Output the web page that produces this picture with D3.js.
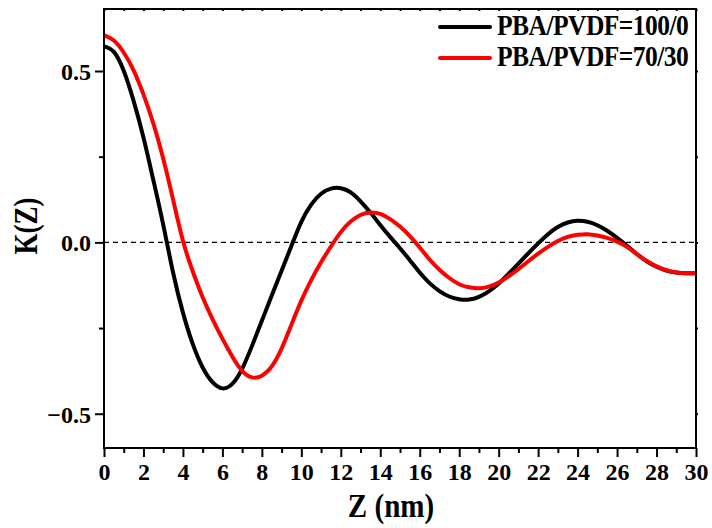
<!DOCTYPE html>
<html>
<head>
<meta charset="utf-8">
<script src="https://cdn.jsdelivr.net/npm/d3@7"></script>
<style>
  body { margin: 0; background: #fff; }
  svg { display: block; }
  text { font-family: "Liberation Serif", "Times New Roman", serif; font-weight: bold; fill: #000; }
</style>
</head>
<body>
<svg id="chart" width="712" height="528"></svg>
<script>
// ---- data ----
const zValues = [0,0.5,1,1.5,2,2.5,3,3.5,4,4.5,5,5.5,6,6.5,7,7.5,8,8.5,9,9.5,10,10.5,11,11.5,12,12.5,13,13.5,14,14.5,15,15.5,16,16.5,17,17.5,18,18.5,19,19.5,20,20.5,21,21.5,22,22.5,23,23.5,24,24.5,25,25.5,26,26.5,27,27.5,28,28.5,29,29.5,30];
const kPBA100 = [0.572,0.556,0.501,0.413,0.306,0.182,0.052,-0.088,-0.205,-0.297,-0.365,-0.408,-0.426,-0.413,-0.369,-0.302,-0.229,-0.155,-0.083,-0.010,0.060,0.110,0.142,0.157,0.158,0.146,0.120,0.087,0.051,0.016,-0.017,-0.052,-0.088,-0.119,-0.142,-0.158,-0.166,-0.167,-0.159,-0.143,-0.120,-0.092,-0.062,-0.032,-0.003,0.024,0.045,0.058,0.063,0.060,0.050,0.034,0.013,-0.010,-0.034,-0.055,-0.071,-0.082,-0.088,-0.090,-0.090];
const kPBA70 = [0.605,0.589,0.554,0.502,0.432,0.347,0.245,0.125,0.005,-0.085,-0.160,-0.224,-0.281,-0.333,-0.375,-0.394,-0.389,-0.362,-0.310,-0.240,-0.170,-0.110,-0.058,-0.012,0.030,0.061,0.080,0.087,0.083,0.068,0.046,0.018,-0.015,-0.050,-0.080,-0.104,-0.122,-0.131,-0.134,-0.129,-0.117,-0.099,-0.078,-0.055,-0.033,-0.013,0.004,0.016,0.022,0.024,0.020,0.013,0.002,-0.013,-0.034,-0.054,-0.070,-0.081,-0.088,-0.090,-0.090];
const seriesNames = ["PBA/PVDF=100/0", "PBA/PVDF=70/30"];
const seriesColors = ["#000000", "#ff0000"];
const xTicks = [0,2,4,6,8,10,12,14,16,18,20,22,24,26,28,30];
const yTicks = [-0.5, 0.0, 0.5];
const xLabel = "Z (nm)";
const yLabel = "K(Z)";

// ---- layout ----
const svg = d3.select("#chart");
const L = 104, R = 696, T = 9, B = 448;
const x = d3.scaleLinear().domain([0, 30]).range([L, R]);
const y = d3.scaleLinear().domain([-0.6, 0.681]).range([B, T]);

// zero dashed line
svg.append("line")
  .attr("x1", x(0)).attr("x2", x(30))
  .attr("y1", y(0)).attr("y2", y(0))
  .attr("stroke", "#000").attr("stroke-width", 1.2)
  .attr("stroke-dasharray", "5,4");

// curves
const series = [kPBA100, kPBA70];
const line = d3.line()
  .x((d, i) => x(zValues[i]))
  .y(d => y(d))
  .curve(d3.curveNatural);
series.forEach((s, i) => {
  svg.append("path")
    .datum(s)
    .attr("d", line)
    .attr("fill", "none")
    .attr("stroke", seriesColors[i])
    .attr("stroke-width", 4)
    .attr("stroke-linejoin", "round");
});

// axes
const xMinor = d3.range(1, 30, 2);
const yMinor = [-0.25, 0.25];

const gx = svg.append("g").attr("transform", `translate(0,${B})`)
  .call(d3.axisBottom(x).tickValues(xTicks).tickSize(9).tickPadding(4).tickFormat(d3.format("d")));
const gxm = svg.append("g").attr("transform", `translate(0,${B})`)
  .call(d3.axisBottom(x).tickValues(xMinor).tickSize(5).tickFormat(""));
const gy = svg.append("g").attr("transform", `translate(${L},0)`)
  .call(d3.axisLeft(y).tickValues(yTicks).tickSize(9).tickPadding(4).tickFormat(d3.format(".1f")));
const gym = svg.append("g").attr("transform", `translate(${L},0)`)
  .call(d3.axisLeft(y).tickValues(yMinor).tickSize(5).tickFormat(""));
const gt = svg.append("g").attr("transform", `translate(0,${T})`)
  .call(d3.axisBottom(x).tickValues(d3.range(0, 31, 1)).tickSize(2).tickFormat(""));
const gr = svg.append("g").attr("transform", `translate(${R},0)`)
  .call(d3.axisRight(y).tickValues(yTicks.concat(yMinor)).tickSize(2).tickFormat(""));

[gx, gxm, gy, gym, gt, gr].forEach(g => {
  g.attr("font-family", null);
  g.select(".domain").remove();
  g.selectAll(".tick line").attr("stroke", "#000").attr("stroke-width", 2);
});
gx.selectAll("text").style("font-size", "24px").attr("dy", "0.78em");
gy.selectAll("text").style("font-size", "24px").attr("dy", "0.35em");

// frame
svg.append("rect")
  .attr("x", L).attr("y", T).attr("width", R - L).attr("height", B - T)
  .attr("fill", "none").attr("stroke", "#000").attr("stroke-width", 2);

// axis titles
svg.append("text")
  .attr("transform", "translate(391,517) scale(0.88,1)")
  .attr("text-anchor", "middle")
  .style("font-size", "33px")
  .text(xLabel);
svg.append("text")
  .attr("transform", "translate(37,226) rotate(-90) scale(0.82,1)")
  .attr("text-anchor", "middle")
  .style("font-size", "33px")
  .text(yLabel);

// legend
const legY = [27, 58];
seriesNames.forEach((name, i) => {
  svg.append("line")
    .attr("x1", 440).attr("x2", 490)
    .attr("y1", legY[i]).attr("y2", legY[i])
    .attr("stroke", seriesColors[i]).attr("stroke-width", 4)
    .attr("stroke-linecap", "round");
  svg.append("text")
    .attr("transform", `translate(497,${legY[i] + 8}) scale(0.88,1)`)
    .style("font-size", "29px")
    .style("letter-spacing", "-0.6px")
    .text(name);
});
</script>
</body>
</html>
